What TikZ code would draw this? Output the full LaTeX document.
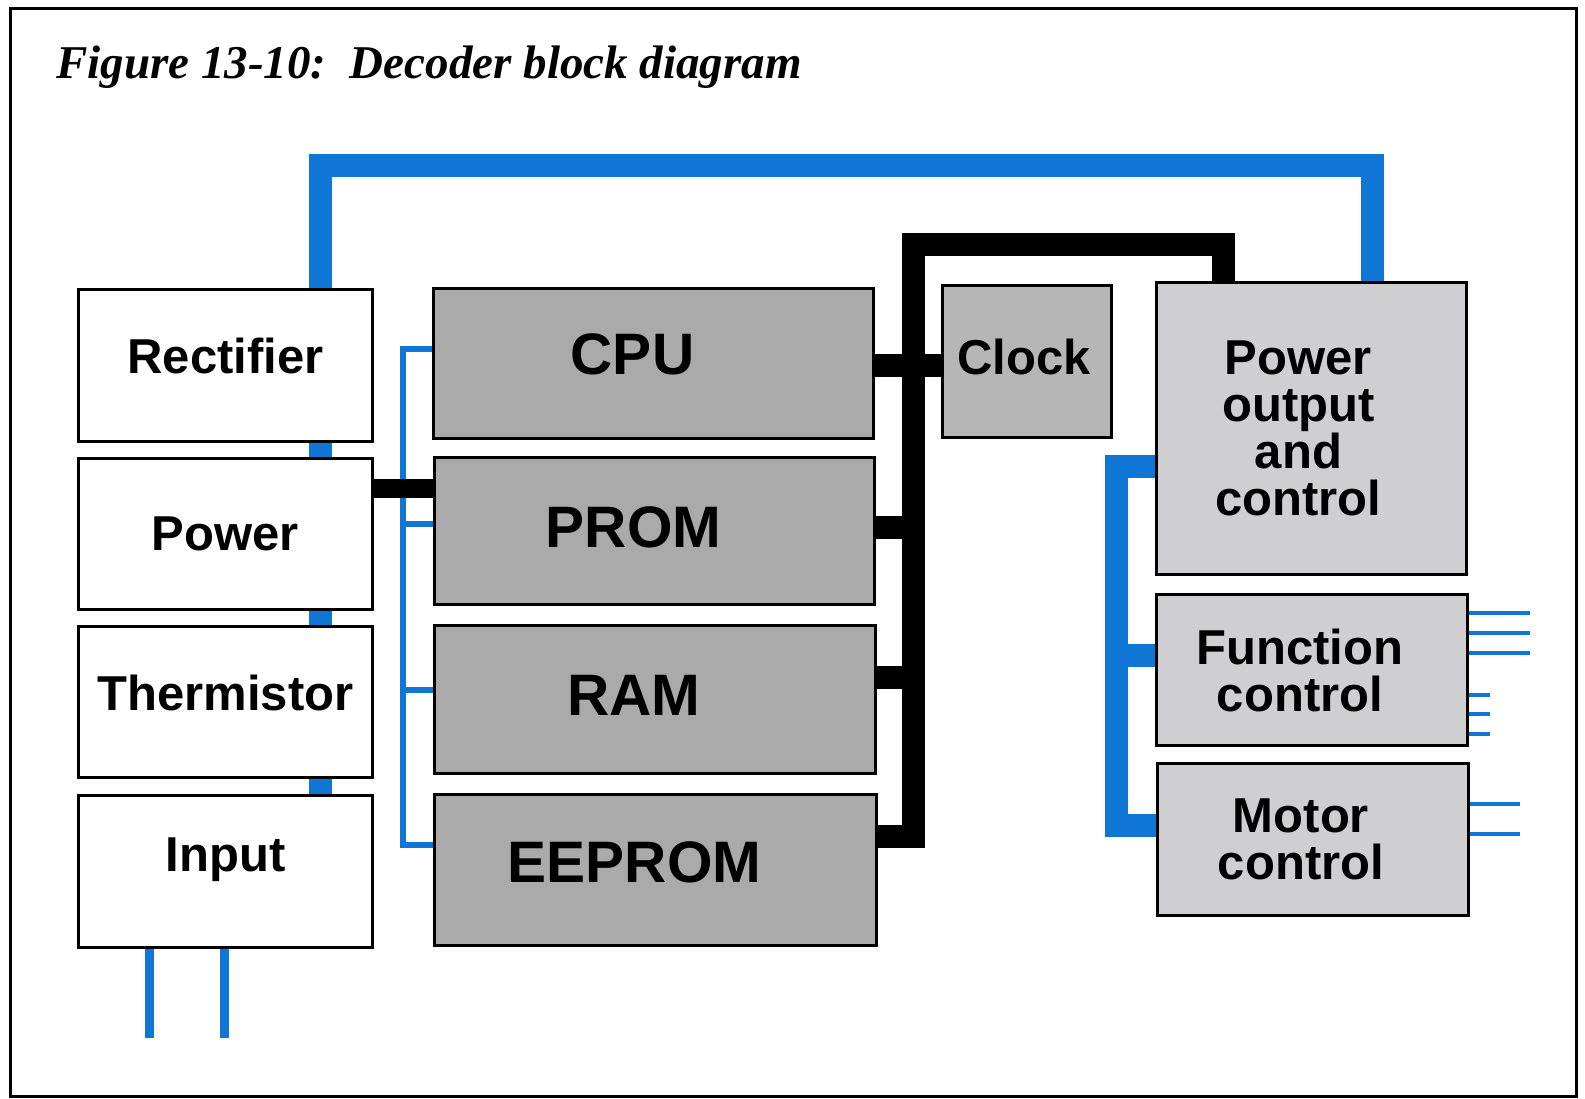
\documentclass[tikz,border=0pt]{standalone}
\usepackage{fontspec}
\usetikzlibrary{backgrounds}
\newfontfamily\titlefont{Liberation Serif}
\newfontfamily\boxfont{Liberation Sans}
\definecolor{busblue}{RGB}{16,118,214}
\definecolor{gmid}{RGB}{170,170,170}
\definecolor{gclk}{RGB}{182,182,182}
\definecolor{glight}{RGB}{207,207,210}
\newcommand\liftby[2]{\raisebox{#1}[\height][\depth]{#2}}
\newcommand\leftby[2]{\kern-#1#2\kern#1}
\tikzset{
  blk/.style={draw=black, line width=3pt, inner sep=0pt, align=center, anchor=north west,
    font=\boxfont\bfseries\fontsize{49}{47}\selectfont},
  wbox/.style={blk, fill=white},
  mbox/.style={blk, fill=gmid, font=\boxfont\bfseries\fontsize{58.5}{58}\selectfont},
  cbox/.style={blk, fill=gclk},
  rbox/.style={blk, fill=glight},
  bluebus/.style={draw=busblue, line width=23pt, line join=miter, line cap=butt},
  blackbus/.style={draw=black, line width=23pt, line join=miter, line cap=butt},
  thinblue/.style={draw=busblue, line width=6pt, line join=miter},
  outline/.style={draw=busblue, line width=4.5pt},
  inline/.style={draw=busblue, line width=9pt},
}
\begin{document}
\begin{tikzpicture}[x=1pt,y=-1pt]
\useasboundingbox (0,0) rectangle (1585,1099);

\node[anchor=base west, inner sep=0pt, font=\titlefont\bfseries\itshape\fontsize{47}{50}\selectfont] (title) at (56,79) {Figure 13-10:\ \ Decoder block diagram};

% bus corner coordinates
\coordinate (bL) at (320,166);
\coordinate (bR) at (1372,166);
\coordinate (kB) at (913,836);
\coordinate (kT) at (913,245);
\coordinate (kR) at (1223,245);
\coordinate (k1) at (913,365);
\coordinate (k2) at (913,527);
\coordinate (k3) at (913,677);
\coordinate (t1) at (403,349);
\coordinate (t2) at (403,524);
\coordinate (t3) at (403,690);
\coordinate (t4) at (403,845);
\coordinate (r1) at (1116,466);
\coordinate (r2) at (1116,655);
\coordinate (r3) at (1116,825);
\coordinate (pl) at (400,488);

% left column
\node[wbox, minimum width=294pt, minimum height=152pt] (rect) at (77,288) {\liftby{10pt}{Rectifier}};
\node[wbox, minimum width=294pt, minimum height=151pt] (pwr) at (77,457) {Power};
\node[wbox, minimum width=294pt, minimum height=151pt] (therm) at (77,625) {\liftby{9pt}{Thermistor}};
\node[wbox, minimum width=294pt, minimum height=152pt] (inp) at (77,794) {\liftby{12pt}{Input}};

\node[mbox, minimum width=440pt, minimum height=150pt] (cpu) at (432,287) {\leftby{21pt}{\liftby{9pt}{CPU}}};
\node[mbox, minimum width=440pt, minimum height=147pt] (prom) at (433,456) {\leftby{21pt}{\liftby{4pt}{PROM}}};
\node[mbox, minimum width=441pt, minimum height=148pt] (ram) at (433,624) {\leftby{21pt}{\liftby{4pt}{RAM}}};
\node[mbox, minimum width=442pt, minimum height=151pt] (eeprom) at (433,793) {\leftby{21pt}{\liftby{8pt}{EEPROM}}};
\node[cbox, minimum width=169pt, minimum height=152pt] (clock) at (941,284) {\leftby{3pt}{\liftby{5pt}{Clock}}};
\node[rbox, minimum width=310pt, minimum height=292pt] (pout) at (1155,281)
  {\leftby{13pt}{Power}\\\leftby{13pt}{output}\\\leftby{13pt}{and}\\\leftby{13pt}{control}};
\node[rbox, minimum width=311pt, minimum height=151pt] (func) at (1155,593)
  {\leftby{12pt}{Function}\\\leftby{12pt}{control}};
\node[rbox, minimum width=311pt, minimum height=152pt] (motor) at (1156,762)
  {\leftby{12pt}{Motor}\\\leftby{12pt}{control}};

\begin{scope}[on background layer]
  \fill[white] (0,0) rectangle (1585,1099);
  % blue supply bus behind the left column
  \draw[bluebus] (bL |- inp.north) -- (bL) -- (bR) -- (bR |- pout.north);
\end{scope}

\draw[line width=3pt] (10,9) rectangle (1576,1096);

% black data bus
\draw[blackbus] (eeprom.east |- kB) -- (kB) -- (kT) -- (kR) -- (kR |- pout.north);
\draw[blackbus] (cpu.east |- k1) -- (clock.west |- k1);
\draw[blackbus] (prom.east |- k2) -- (k2);
\draw[blackbus] (ram.east |- k3) -- (k3);

% thin blue bus to memories
\draw[thinblue] (cpu.west |- t1) -- (t1) -- (t4) -- (eeprom.west |- t4);
\draw[thinblue] (t2) -- (prom.west |- t2);
\draw[thinblue] (t3) -- (ram.west |- t3);

% power to PROM link
\draw[draw=black, line width=19pt] (pwr.east |- pl) -- (prom.west |- pl);

% right blue bus
\draw[bluebus] (pout.west |- r1) -- (r1) -- (r3) -- (motor.west |- r3);
\draw[bluebus] (r2) -- (func.west |- r2);

% outputs of function control
\foreach \y/\xe [count=\i] in {613/1530, 633/1530, 653/1530, 695/1490, 714/1490, 734/1490} {
  \coordinate (fo\i) at (\xe,\y);
  \draw[outline] (func.east |- fo\i) -- (fo\i);
}
\foreach \y [count=\i] in {804, 834} {
  \coordinate (mo\i) at (1520,\y);
  \draw[outline] (motor.east |- mo\i) -- (mo\i);
}
% inputs
\coordinate (in1) at (149,1038);
\coordinate (in2) at (224,1038);
\draw[inline] (inp.south -| in1) -- (in1);
\draw[inline] (inp.south -| in2) -- (in2);
\end{tikzpicture}
\end{document}
